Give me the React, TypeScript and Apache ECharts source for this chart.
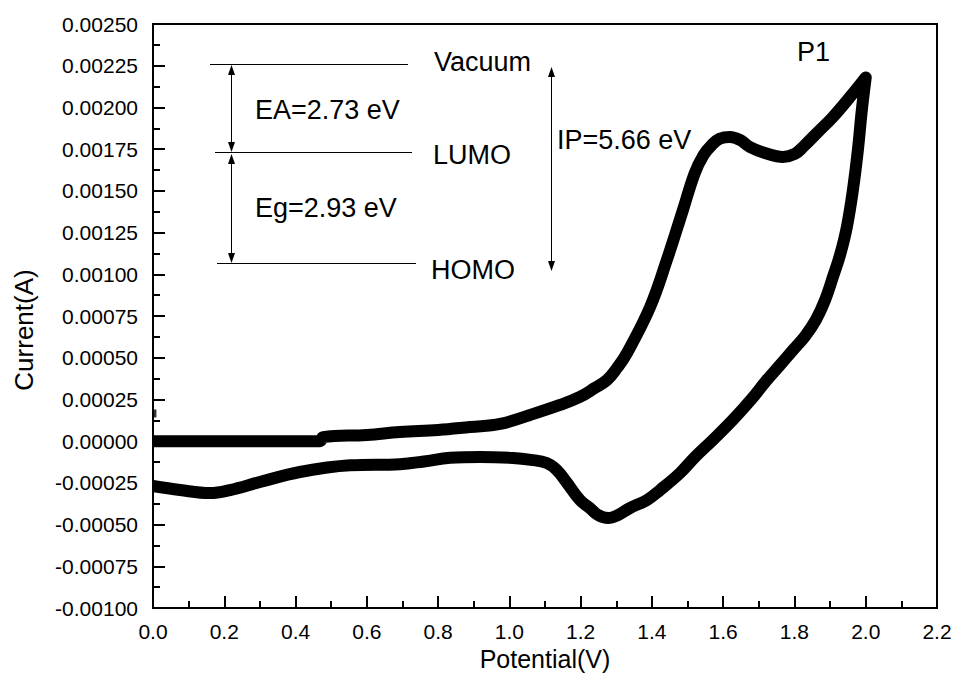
import React, { useEffect, useRef } from "react";
import * as echarts from "echarts";

// Forward (anodic) scan
const potentialForward = [0, 0.216, 0.469, 0.477, 0.6, 0.693, 0.8, 0.89, 0.974, 1.058, 1.142, 1.198, 1.24, 1.274, 1.302, 1.33, 1.395, 1.442, 1.487, 1.52, 1.545, 1.568, 1.59, 1.619, 1.647, 1.675, 1.717, 1.768, 1.801, 1.824, 1.866, 1.908, 1.956, 2.0];
const currentForward = [0, 0, 0, 0.000024, 0.000037, 0.000055, 0.000067, 0.000085, 0.000103, 0.000157, 0.000217, 0.000265, 0.000319, 0.000366, 0.000438, 0.000528, 0.000804, 0.001086, 0.001385, 0.001605, 0.001715, 0.001775, 0.001812, 0.001823, 0.001805, 0.001763, 0.001727, 0.001703, 0.001721, 0.001763, 0.001853, 0.001943, 0.002063, 0.00218];

// Reverse (cathodic) scan
const potentialReverse = [2.0, 1.989, 1.978, 1.964, 1.947, 1.928, 1.908, 1.886, 1.86, 1.83, 1.796, 1.759, 1.72, 1.68, 1.627, 1.571, 1.521, 1.479, 1.423, 1.386, 1.338, 1.305, 1.277, 1.249, 1.226, 1.198, 1.162, 1.133, 1.105, 1.06, 1.01, 0.918, 0.834, 0.76, 0.693, 0.553, 0.412, 0.3, 0.216, 0.16, 0.076, 0];
const currentReverse = [0.00218, 0.001983, 0.001745, 0.001505, 0.001283, 0.001116, 0.000984, 0.000846, 0.000726, 0.00063, 0.000546, 0.000455, 0.00036, 0.000253, 0.000127, 0.000007, -0.000095, -0.000191, -0.000293, -0.000353, -0.000401, -0.000443, -0.000461, -0.000443, -0.000401, -0.000353, -0.000251, -0.000173, -0.000131, -0.000112, -0.000101, -0.000095, -0.0001, -0.000122, -0.000138, -0.000145, -0.000185, -0.000245, -0.000293, -0.000311, -0.000293, -0.000269];

// Small start marker
const startMarker = [[0.004, 0.000166]];

const seriesName = "P1";
const xAxisTitle = "Potential(V)";
const yAxisTitle = "Current(A)";
const levelLabels = ["Vacuum", "LUMO", "HOMO"];
const gapLabels = ["EA=2.73 eV", "Eg=2.93 eV", "IP=5.66 eV"];

const FONT = '"Liberation Sans", Arial, Helvetica, sans-serif';

function arrowHead(x: number, tipY: number, dir: number) {
  // dir = -1 points up, 1 points down
  const base = tipY - dir * 10;
  return {
    type: "polygon",
    shape: { points: [[x, tipY], [x - 3.5, base], [x + 3.5, base]] },
    style: { fill: "#000" },
    silent: true,
  };
}

export default function App() {
  const ref = useRef<HTMLDivElement>(null);
  useEffect(() => {
    const chart = echarts.init(ref.current!, null, { renderer: "svg" });
    const loop: number[][] = [];
    potentialForward.forEach((x, i) => loop.push([x, currentForward[i]]));
    potentialReverse.forEach((x, i) => loop.push([x, currentReverse[i]]));

    const textStyle = (text: string, x: number, y: number, align = "left") => ({
      type: "text",
      x,
      y,
      style: {
        text,
        font: `27px ${FONT}`,
        fill: "#000",
        textAlign: align,
        textVerticalAlign: "middle",
      },
      silent: true,
    });

    chart.setOption({
      animation: false,
      backgroundColor: "#fff",
      grid: {
        left: 153,
        right: 19,
        top: 24,
        bottom: 83,
        show: true,
        borderColor: "#000",
        borderWidth: 2,
        containLabel: false,
        outerBoundsMode: "none",
      },
      xAxis: {
        type: "value",
        min: 0,
        max: 2.2,
        interval: 0.2,
        name: xAxisTitle,
        nameLocation: "middle",
        nameGap: 36,
        nameTextStyle: { fontFamily: FONT, fontSize: 25, color: "#000" },
        axisLine: { show: true, onZero: false, lineStyle: { color: "#000", width: 2 } },
        axisTick: { show: true, inside: true, length: 12, lineStyle: { color: "#000", width: 2 } },
        minorTick: { show: true, splitNumber: 2, length: 7, lineStyle: { color: "#000", width: 2 } },
        splitLine: { show: false },
        axisLabel: {
          fontFamily: FONT,
          fontSize: 21,
          color: "#000",
          margin: 13,
          formatter: (v: number) => v.toFixed(1),
        },
      },
      yAxis: {
        type: "value",
        min: -0.001,
        max: 0.0025,
        interval: 0.00025,
        axisLine: { show: true, onZero: false, lineStyle: { color: "#000", width: 2 } },
        axisTick: { show: true, inside: true, length: 12, lineStyle: { color: "#000", width: 2 } },
        minorTick: { show: true, splitNumber: 2, length: 7, lineStyle: { color: "#000", width: 2 } },
        splitLine: { show: false },
        axisLabel: {
          fontFamily: FONT,
          fontSize: 21,
          color: "#000",
          margin: 15,
          formatter: (v: number) => v.toFixed(5),
        },
      },
      series: [
        {
          name: seriesName,
          type: "line",
          data: loop,
          showSymbol: false,
          smooth: 0.4,
          lineStyle: { color: "#000", width: 12, cap: "butt", join: "round" },
          silent: true,
        },
        {
          type: "scatter",
          data: startMarker,
          symbol: "rect",
          symbolSize: [4, 8],
          itemStyle: { color: "#000" },
          silent: true,
        },
      ],
      graphic: [
        // y axis title
        {
          type: "text",
          x: 24,
          y: 330,
          rotation: Math.PI / 2,
          style: {
            text: yAxisTitle,
            font: `26px ${FONT}`,
            fill: "#000",
            textAlign: "center",
            textVerticalAlign: "middle",
          },
          silent: true,
        },
        // energy levels
        { type: "line", shape: { x1: 210, y1: 64.5, x2: 408, y2: 64.5 }, style: { stroke: "#000", lineWidth: 1 }, silent: true },
        { type: "line", shape: { x1: 215, y1: 152.5, x2: 412, y2: 152.5 }, style: { stroke: "#000", lineWidth: 1 }, silent: true },
        { type: "line", shape: { x1: 217, y1: 263.5, x2: 416, y2: 263.5 }, style: { stroke: "#000", lineWidth: 1 }, silent: true },
        // EA arrow
        { type: "line", shape: { x1: 231.5, y1: 70, x2: 231.5, y2: 146 }, style: { stroke: "#000", lineWidth: 1 }, silent: true },
        arrowHead(231.5, 65, -1),
        arrowHead(231.5, 152, 1),
        // Eg arrow
        { type: "line", shape: { x1: 231.5, y1: 160, x2: 231.5, y2: 257 }, style: { stroke: "#000", lineWidth: 1 }, silent: true },
        arrowHead(231.5, 154, -1),
        arrowHead(231.5, 263, 1),
        // IP arrow
        { type: "line", shape: { x1: 551.5, y1: 74, x2: 551.5, y2: 264 }, style: { stroke: "#000", lineWidth: 1 }, silent: true },
        arrowHead(551.5, 67, -1),
        arrowHead(551.5, 271, 1),
        textStyle(levelLabels[0], 434, 62),
        textStyle(levelLabels[1], 433, 155),
        textStyle(levelLabels[2], 431, 270),
        textStyle(gapLabels[0], 255, 110),
        textStyle(gapLabels[1], 255, 208),
        textStyle(gapLabels[2], 557, 140),
        textStyle(seriesName, 797, 52),
      ],
    });
    return () => chart.dispose();
  }, []);
  return (
    <div
      ref={ref}
      style={{ position: "fixed", left: 0, top: 0, width: 956, height: 691, background: "#fff" }}
    />
  );
}
